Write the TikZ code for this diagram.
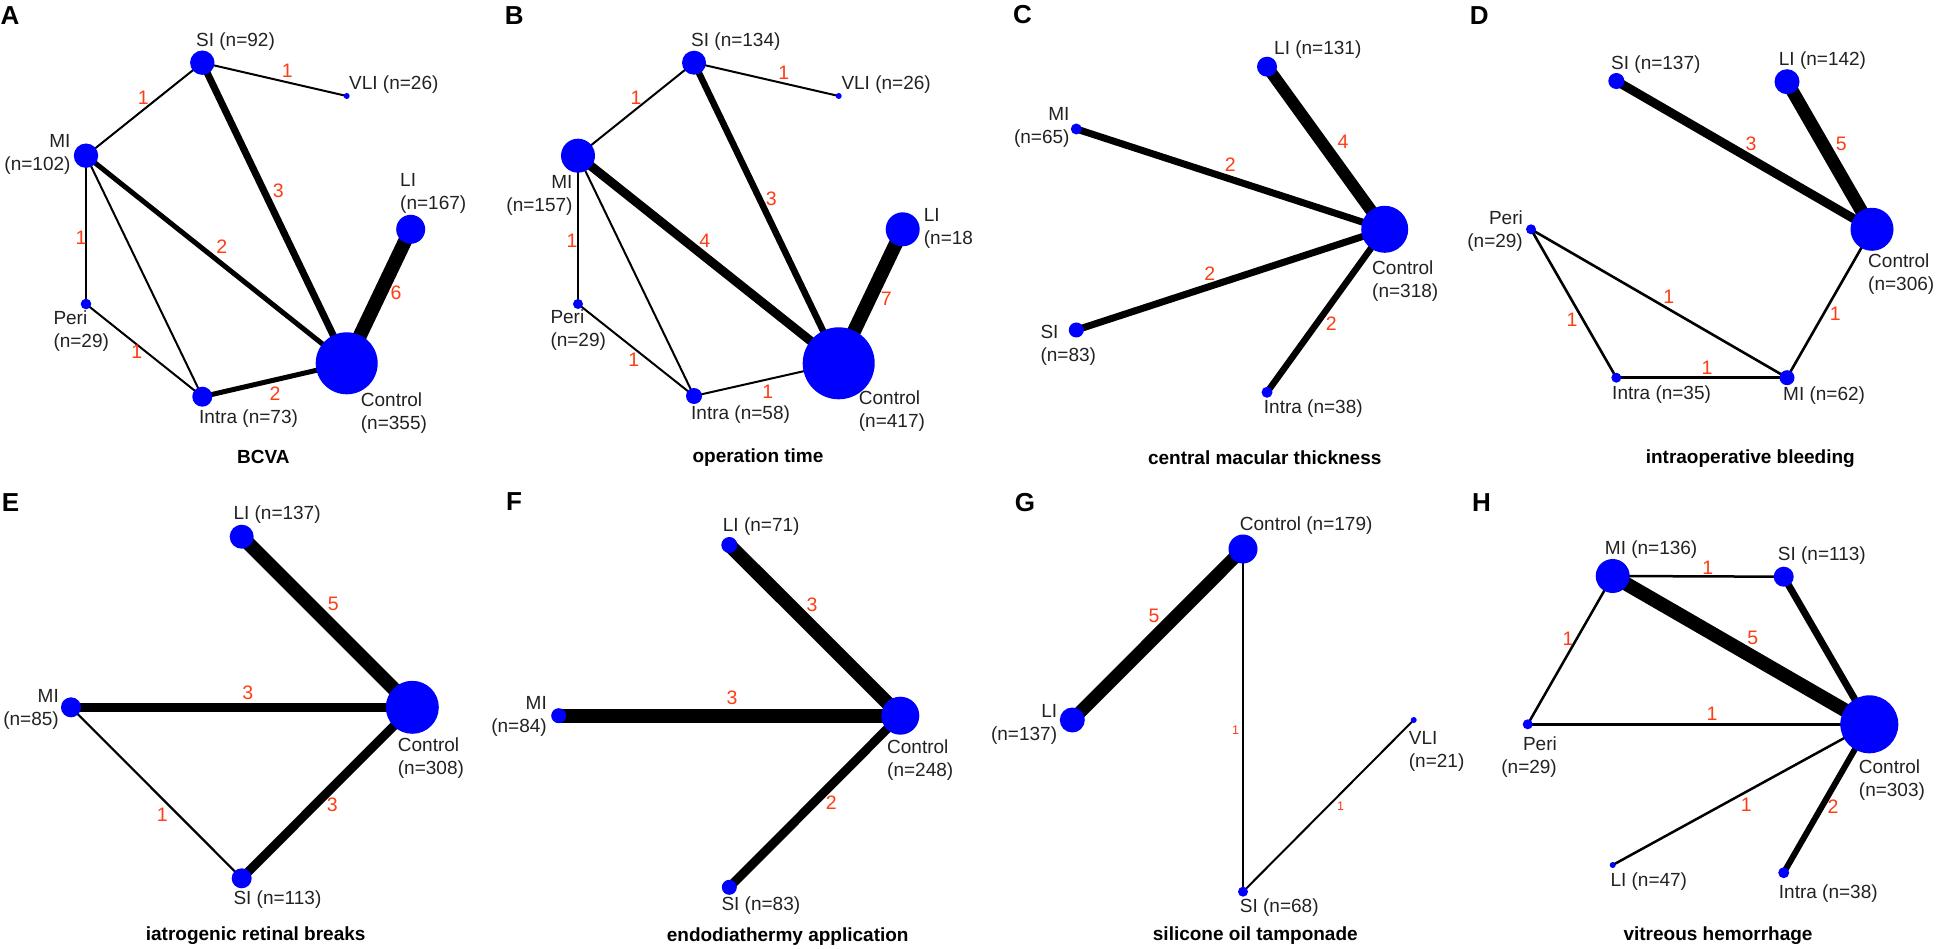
\documentclass[tikz,border=0pt]{standalone}
\usepackage{fontspec}
\setmainfont{Liberation Sans}
\definecolor{nodeblue}{RGB}{0,0,255}
\definecolor{numred}{RGB}{255,60,20}
\definecolor{labgray}{RGB}{34,34,34}
\pgfdeclarelayer{bg}
\pgfdeclarelayer{edges}
\pgfsetlayers{bg,edges,main}
\tikzset{
  dot/.style={circle, fill=nodeblue, draw=none, inner sep=0pt, minimum size=#1},
  lab/.style={font=\fontsize{19}{23}\selectfont, text=labgray, inner sep=0pt},
  num/.style={font=\fontsize{19.5}{20}\selectfont, text=numred, inner sep=0pt},
  snum/.style={font=\fontsize{12.5}{13}\selectfont, text=numred, inner sep=0pt},
  ttl/.style={font=\bfseries\fontsize{19}{20}\selectfont, text=black, inner sep=0pt},
  panel/.style={font=\bfseries\fontsize{26}{26}\selectfont, text=black, inner sep=0pt, anchor=west},
  ew/.style={draw=black, line width=#1}
}
\begin{document}
\begin{tikzpicture}[x=1pt,y=-1pt]
\begin{pgfonlayer}{bg}
\fill[white] (0,0) rectangle (1937,949);
\end{pgfonlayer}
\useasboundingbox (0,0) rectangle (1937,949);

% ================= Panel A =================
\node[panel] (pA) at (0.5,16) {A};
\node[dot=24.4pt] (aSI) at (202.3,62.7) {};
\node[dot=6pt] (aVLI) at (346.7,96) {};
\node[dot=24.4pt] (aMI) at (86,155.7) {};
\node[dot=29pt] (aLI) at (410.7,229.3) {};
\node[dot=10.6pt] (aPeri) at (86,304) {};
\node[dot=20pt] (aIntra) at (202.3,396.7) {};
\node[dot=62pt] (aCtrl) at (346.7,363.3) {};
\node[lab, anchor=west] (aSIl) at (196,41.7) {SI (n=92)};
\node[lab, anchor=west] (aVLIl) at (349,85) {VLI (n=26)};
\node[lab, anchor=east, align=right] (aMIl) at (70.7,154.2) {MI\\(n=102)};
\node[lab, anchor=west, align=left] (aLIl) at (400,193.3) {LI\\(n=167)};
\node[lab, anchor=west, align=left] (aPeril) at (53.3,330.8) {Peri\\(n=29)};
\node[lab, anchor=west] (aIntral) at (199,418.3) {Intra (n=73)};
\node[lab, anchor=west, align=left] (aCtrll) at (360.7,413.3) {Control\\(n=355)};
\node[ttl] (aT) at (263.3,457.3) {BCVA};
\begin{pgfonlayer}{edges}
\draw[ew=2pt] (aSI.center) -- (aVLI.center);
\draw[ew=2pt] (aSI.center) -- (aMI.center);
\draw[ew=7pt] (aSI.center) -- (aCtrl.center);
\draw[ew=5pt] (aMI.center) -- (aCtrl.center);
\draw[ew=2pt] (aMI.center) -- (aPeri.center);
\draw[ew=2pt] (aMI.center) -- (aIntra.center);
\draw[ew=2pt] (aPeri.center) -- (aIntra.center);
\draw[ew=5pt] (aIntra.center) -- (aCtrl.center);
\draw[ew=14pt] (aLI.center) -- (aCtrl.center);
\end{pgfonlayer}
\node[num] at (287.3,71) {1};
\node[num] at (143.3,97.7) {1};
\node[num] at (278.3,190.7) {3};
\node[num] at (221.7,246.7) {2};
\node[num] at (81,237.3) {1};
\node[num] at (136.7,351.7) {1};
\node[num] at (275,393.3) {2};
\node[num] at (396,292.7) {6};

% ================= Panel B =================
\node[panel] (pB) at (504.7,16) {B};
\node[dot=24pt] (bSI) at (694,62.7) {};
\node[dot=6pt] (bVLI) at (838.7,96) {};
\node[dot=34pt] (bMI) at (578,155.7) {};
\node[dot=34pt] (bLI) at (902.7,229.3) {};
\node[dot=10pt] (bPeri) at (578,304) {};
\node[dot=16pt] (bIntra) at (694,396) {};
\node[dot=72pt] (bCtrl) at (838.7,363.3) {};
\node[lab, anchor=west] (bSIl) at (691,41.7) {SI (n=134)};
\node[lab, anchor=west] (bVLIl) at (841.3,85) {VLI (n=26)};
\node[lab, anchor=east, align=right] (bMIl) at (572.7,195.3) {MI\\(n=157)};
\node[lab, anchor=west, align=left] (bLIl) at (923.7,228.3) {LI\\(n=18};
\node[lab, anchor=west, align=left] (bPeril) at (550.3,330.5) {Peri\\(n=29)};
\node[lab, anchor=west] (bIntral) at (691,415) {Intra (n=58)};
\node[lab, anchor=west, align=left] (bCtrll) at (858.7,411) {Control\\(n=417)};
\node[ttl] (bT) at (758,457.3) {operation time};
\begin{pgfonlayer}{edges}
\draw[ew=2pt] (bSI.center) -- (bVLI.center);
\draw[ew=2pt] (bSI.center) -- (bMI.center);
\draw[ew=6.5pt] (bSI.center) -- (bCtrl.center);
\draw[ew=9pt] (bMI.center) -- (bCtrl.center);
\draw[ew=2pt] (bMI.center) -- (bPeri.center);
\draw[ew=2pt] (bMI.center) -- (bIntra.center);
\draw[ew=2pt] (bPeri.center) -- (bIntra.center);
\draw[ew=2pt] (bIntra.center) -- (bCtrl.center);
\draw[ew=14pt] (bLI.center) -- (bCtrl.center);
\end{pgfonlayer}
\node[num] at (783.7,72.7) {1};
\node[num] at (636,97.7) {1};
\node[num] at (771.3,199) {3};
\node[num] at (704.7,240.7) {4};
\node[num] at (572,240.7) {1};
\node[num] at (633.7,360) {1};
\node[num] at (767.7,391.7) {1};
\node[num] at (886.3,298.3) {7};

% ================= Panel C =================
\node[panel] (pC) at (1013,15) {C};
\node[dot=20pt] (cLI) at (1267,66.7) {};
\node[dot=11pt] (cMI) at (1076.3,129) {};
\node[dot=47pt] (cCtrl) at (1384.7,229.3) {};
\node[dot=15pt] (cSI) at (1076.3,330) {};
\node[dot=11pt] (cIntra) at (1267,392.3) {};
\node[lab, anchor=west] (cLIl) at (1274,50) {LI (n=131)};
\node[lab, anchor=east, align=right] (cMIl) at (1069.7,127) {MI\\(n=65)};
\node[lab, anchor=west, align=left] (cSIl) at (1040.3,345.3) {SI\\(n=83)};
\node[lab, anchor=west] (cIntral) at (1263.7,408.3) {Intra (n=38)};
\node[lab, anchor=west, align=left] (cCtrll) at (1372,281) {Control\\(n=318)};
\node[ttl] (cT) at (1264.7,457.3) {central macular thickness};
\begin{pgfonlayer}{edges}
\draw[ew=12pt] (cLI.center) -- (cCtrl.center);
\draw[ew=7pt] (cMI.center) -- (cCtrl.center);
\draw[ew=7pt] (cSI.center) -- (cCtrl.center);
\draw[ew=6.5pt] (cIntra.center) -- (cCtrl.center);
\end{pgfonlayer}
\node[num] at (1343,141.7) {4};
\node[num] at (1230.3,165) {2};
\node[num] at (1209.7,273.3) {2};
\node[num] at (1331.3,323.3) {2};

% ================= Panel D =================
\node[panel] (pD) at (1469.7,15.7) {D};
\node[dot=16pt] (dSI) at (1616.3,81) {};
\node[dot=25pt] (dLI) at (1787,81.7) {};
\node[dot=43pt] (dCtrl) at (1872,229.3) {};
\node[dot=10pt] (dPeri) at (1531,229.3) {};
\node[dot=10pt] (dIntra) at (1616.3,377.7) {};
\node[dot=15pt] (dMI) at (1787,377.7) {};
\node[lab, anchor=west] (dSIl) at (1611,65) {SI (n=137)};
\node[lab, anchor=west] (dLIl) at (1778.7,61) {LI (n=142)};
\node[lab, anchor=east, align=right] (dPeril) at (1523,230.7) {Peri\\(n=29)};
\node[lab, anchor=west] (dIntral) at (1612,394.3) {Intra (n=35)};
\node[lab, anchor=west] (dMIl) at (1783,396) {MI (n=62)};
\node[lab, anchor=west, align=left] (dCtrll) at (1868,274.3) {Control\\(n=306)};
\node[ttl] (dT) at (1750.3,458.3) {intraoperative bleeding};
\begin{pgfonlayer}{edges}
\draw[ew=9pt] (dSI.center) -- (dCtrl.center);
\draw[ew=13pt] (dLI.center) -- (dCtrl.center);
\draw[ew=2.6pt] (dPeri.center) -- (dMI.center);
\draw[ew=2.6pt] (dPeri.center) -- (dIntra.center);
\draw[ew=2.6pt] (dIntra.center) -- (dMI.center);
\draw[ew=2.6pt] (dMI.center) -- (dCtrl.center);
\end{pgfonlayer}
\node[num] at (1751,144) {3};
\node[num] at (1841.3,144) {5};
\node[num] at (1668.7,296.7) {1};
\node[num] at (1572,320) {1};
\node[num] at (1707,367.7) {1};
\node[num] at (1835.3,314) {1};

% ================= Panel E =================
\node[panel] (pE) at (1.7,503) {E};
\node[dot=24pt] (eLI) at (241.7,536.7) {};
\node[dot=20pt] (eMI) at (71,707.3) {};
\node[dot=53pt] (eCtrl) at (412.3,707.3) {};
\node[dot=20pt] (eSI) at (241.7,878.3) {};
\node[lab, anchor=west] (eLIl) at (233.3,514.3) {LI (n=137)};
\node[lab, anchor=east, align=right] (eMIl) at (59,709.7) {MI\\(n=85)};
\node[lab, anchor=west, align=left] (eCtrll) at (397.7,758.3) {Control\\(n=308)};
\node[lab, anchor=west] (eSIl) at (233.3,900) {SI (n=113)};
\node[ttl] (eT) at (255.7,936) {iatrogenic retinal breaks};
\begin{pgfonlayer}{edges}
\draw[ew=14pt] (eLI.center) -- (eCtrl.center);
\draw[ew=9pt] (eMI.center) -- (eCtrl.center);
\draw[ew=2.2pt] (eMI.center) -- (eSI.center);
\draw[ew=9pt] (eSI.center) -- (eCtrl.center);
\end{pgfonlayer}
\node[num] at (333.3,604.3) {5};
\node[num] at (247.7,692.7) {3};
\node[num] at (162.3,814.3) {1};
\node[num] at (332.3,805) {3};

% ================= Panel F =================
\node[panel] (pF) at (506,502) {F};
\node[dot=16pt] (fLI) at (729.3,545) {};
\node[dot=15pt] (fMI) at (558.7,715.7) {};
\node[dot=38pt] (fCtrl) at (900.3,715.7) {};
\node[dot=15pt] (fSI) at (729.3,887.3) {};
\node[lab, anchor=west] (fLIl) at (722.7,526.7) {LI (n=71)};
\node[lab, anchor=east, align=right] (fMIl) at (547,716.3) {MI\\(n=84)};
\node[lab, anchor=west, align=left] (fCtrll) at (887,759.7) {Control\\(n=248)};
\node[lab, anchor=west] (fSIl) at (721.3,906) {SI (n=83)};
\node[ttl] (fT) at (787.7,936.7) {endodiathermy application};
\begin{pgfonlayer}{edges}
\draw[ew=14pt] (fLI.center) -- (fCtrl.center);
\draw[ew=14pt] (fMI.center) -- (fCtrl.center);
\draw[ew=9pt] (fSI.center) -- (fCtrl.center);
\end{pgfonlayer}
\node[num] at (812,605) {3};
\node[num] at (732,697.7) {3};
\node[num] at (831.3,802.3) {2};

% ================= Panel G =================
\node[panel] (pG) at (1014.7,503) {G};
\node[dot=29pt] (gCtrl) at (1243,549) {};
\node[dot=25pt] (gLI) at (1072.3,720) {};
\node[dot=6pt] (gVLI) at (1413.7,720) {};
\node[dot=10pt] (gSI) at (1243,891.7) {};
\node[lab, anchor=west] (gCtrll) at (1239.7,525.7) {Control (n=179)};
\node[lab, anchor=east, align=right] (gLIl) at (1057.3,724) {LI\\(n=137)};
\node[lab, anchor=west, align=left] (gVLIl) at (1408.7,751.2) {VLI\\(n=21)};
\node[lab, anchor=west] (gSIl) at (1239.7,907.7) {SI (n=68)};
\node[ttl] (gT) at (1255.3,936) {silicone oil tamponade};
\begin{pgfonlayer}{edges}
\draw[ew=13pt] (gLI.center) -- (gCtrl.center);
\draw[ew=2pt] (gCtrl.center) -- (gSI.center);
\draw[ew=2pt] (gSI.center) -- (gVLI.center);
\end{pgfonlayer}
\node[num] at (1154,615.7) {5};
\node[snum] at (1235.7,730) {1};
\node[snum] at (1340.7,806) {1};

% ================= Panel H =================
\node[panel] (pH) at (1472,503) {H};
\node[dot=34pt] (hMI) at (1612.7,576) {};
\node[dot=20pt] (hSI) at (1783.7,576.7) {};
\node[dot=10pt] (hPeri) at (1527.7,724.3) {};
\node[dot=58pt] (hCtrl) at (1869.3,724.3) {};
\node[dot=6pt] (hLI) at (1612.7,865) {};
\node[dot=11pt] (hIntra) at (1783.7,872.7) {};
\node[lab, anchor=west] (hMIl) at (1604.7,550) {MI (n=136)};
\node[lab, anchor=west] (hSIl) at (1777.7,556) {SI (n=113)};
\node[lab, anchor=east, align=right] (hPeril) at (1557,756.7) {Peri\\(n=29)};
\node[lab, anchor=west, align=left] (hCtrll) at (1858.7,780) {Control\\(n=303)};
\node[lab, anchor=west] (hLIl) at (1610.3,881.7) {LI (n=47)};
\node[lab, anchor=west] (hIntral) at (1778.7,893.3) {Intra (n=38)};
\node[ttl] (hT) at (1718,936) {vitreous hemorrhage};
\begin{pgfonlayer}{edges}
\draw[ew=2.5pt] (hMI.center) -- (hSI.center);
\draw[ew=14pt] (hMI.center) -- (hCtrl.center);
\draw[ew=7pt] (hSI.center) -- (hCtrl.center);
\draw[ew=2.5pt] (hMI.center) -- (hPeri.center);
\draw[ew=2.5pt] (hPeri.center) -- (hCtrl.center);
\draw[ew=2.5pt] (hLI.center) -- (hCtrl.center);
\draw[ew=6pt] (hIntra.center) -- (hCtrl.center);
\end{pgfonlayer}
\node[num] at (1707.7,567.7) {1};
\node[num] at (1752.7,637.7) {5};
\node[num] at (1568,639) {1};
\node[num] at (1712,713.3) {1};
\node[num] at (1746.3,805) {1};
\node[num] at (1833,806.7) {2};
\end{tikzpicture}
\end{document}
